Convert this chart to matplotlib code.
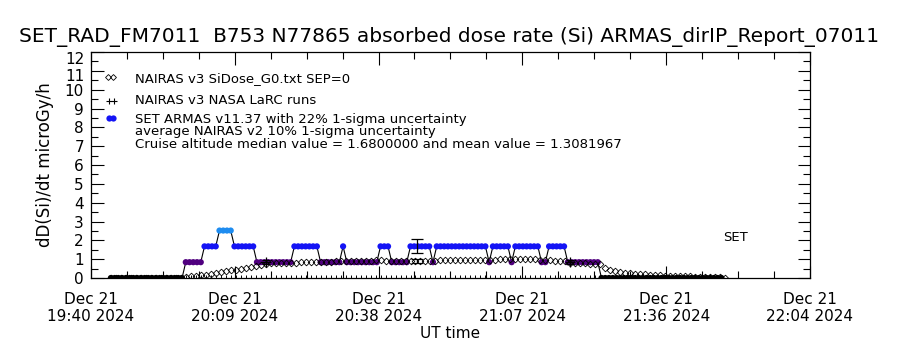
import numpy as np
import matplotlib
matplotlib.use('Agg')
import matplotlib.pyplot as plt
import matplotlib.transforms as mtransforms
from matplotlib.ticker import MultipleLocator, FixedLocator

# time axis: minutes after Dec 21 2024 19:40 UT
x_ticks = [0, 28.8, 57.6, 86.4, 115.2, 144]
x_ticklabels = ['Dec 21\n19:40 2024', 'Dec 21\n20:09 2024', 'Dec 21\n20:38 2024',
                'Dec 21\n21:07 2024', 'Dec 21\n21:36 2024', 'Dec 21\n22:04 2024']
y_ticks = list(range(0, 13))
y_ticklabels = [str(v) for v in y_ticks]

# ARMAS absorbed dose rate (microGy/h), 45 s records starting 19:44, as runs (level, count)
armas_start = 4.0
armas_step = 0.75
armas_runs = [(0.0, 20), (0.84, 5), (1.68, 4), (2.52, 4), (1.68, 6), (0.84, 10),
              (1.68, 7), (0.84, 6), (1.68, 1), (0.84, 9), (1.68, 3), (0.84, 5),
              (1.68, 6), (0.84, 1), (1.68, 14), (0.84, 1), (1.68, 5), (0.84, 1),
              (1.68, 7), (0.84, 2), (1.68, 5), (0.84, 9), (0.0, 33)]
level_colors = {0.0: 'black', 0.84: '#50007f', 1.68: '#1414f5', 2.52: '#1e8cf0'}

# NAIRAS v3 SiDose, 1 min records starting 19:44
nairas_start = 4
nairas_val = [0.0, 0.0, 0.0, 0.0, 0.0, 0.0, 0.0, 0.0, 0.0, 0.0, 0.0, 0.0, 0.0, 0.0, 0.0,
              0.05, 0.08, 0.12, 0.15, 0.18, 0.22, 0.26, 0.30, 0.35, 0.40, 0.44, 0.48,
              0.53, 0.58, 0.63, 0.70, 0.76, 0.78, 0.80,
              0.80, 0.81, 0.82, 0.82, 0.83, 0.84, 0.84, 0.85, 0.86, 0.86, 0.87, 0.88, 0.88,
              0.89, 0.90, 0.90, 0.91, 0.92, 0.92, 0.93, 0.93,
              0.90, 0.89, 0.88, 0.88, 0.89, 0.90, 0.90, 0.91, 0.91, 0.92,
              0.92, 0.93, 0.93, 0.93, 0.94, 0.94, 0.95, 0.95, 0.95, 0.96, 0.96, 0.97,
              0.98, 0.99, 1.00, 1.00, 1.01, 1.01, 1.00, 1.00, 0.99, 0.98,
              0.95, 0.93, 0.92, 0.90, 0.88,
              0.82, 0.80, 0.79, 0.78, 0.76, 0.75, 0.72,
              0.55, 0.42, 0.36, 0.32, 0.28, 0.25, 0.23, 0.21, 0.19, 0.17, 0.16, 0.14,
              0.13, 0.12, 0.11, 0.10, 0.09, 0.08, 0.07, 0.06, 0.05, 0.05, 0.04, 0.03, 0.02]

# NAIRAS v3 NASA LaRC runs
larc_min = [35.0, 96.0]
larc_val = [0.85, 0.85]
larc_err = [0.12, 0.12]
larc_zero_first, larc_zero_last = 4, 102

# cruise summary bars
bar_min = 65.4
armas_median = 1.68
armas_sigma = 0.22
nairas_avg = 0.90
nairas_sigma = 0.10

armas_val = np.concatenate([np.full(n, v) for v, n in armas_runs])
armas_t = armas_start + armas_step * np.arange(len(armas_val))
armas_c = [level_colors[v] for v in armas_val]
nairas_t = nairas_start + np.arange(len(nairas_val))
larc_zero_t = np.arange(larc_zero_first, larc_zero_last + 1)

fig = plt.figure(figsize=(9, 3.5), dpi=100)
ax = fig.add_axes([0.101, 0.2057, 0.799, 0.6457])

ax.plot(larc_zero_t, np.zeros(len(larc_zero_t)), '+', color='k', ms=5, mew=0.7, zorder=2)
ax.plot(armas_t, armas_val, color='k', lw=0.8, zorder=2)
ax.scatter(armas_t, armas_val, c=armas_c, s=20, linewidths=0, zorder=3)
ax.plot(nairas_t, nairas_val, 'D', mfc='none', mec='k', ms=3.4, mew=0.6, ls='none', zorder=4)
ax.errorbar(larc_min, larc_val, yerr=larc_err, fmt='+', color='k', ms=7, mew=0.9,
            elinewidth=0.9, capsize=3, capthick=0.9, zorder=5)
ax.errorbar([bar_min], [armas_median], yerr=[armas_median * armas_sigma], fmt='none',
            ecolor='k', elinewidth=0.9, capsize=4, capthick=0.9, zorder=5)
ax.errorbar([bar_min], [nairas_avg], yerr=[nairas_avg * nairas_sigma], fmt='none',
            ecolor='k', elinewidth=0.9, capsize=4, capthick=0.9, zorder=5)

ax.set_xlim(0, 144)
ax.set_ylim(0, 12)
ax.xaxis.set_major_locator(FixedLocator(x_ticks))
ax.set_xticklabels(x_ticklabels)
ax.xaxis.set_minor_locator(MultipleLocator(7.2))
ax.set_yticks(y_ticks)
# the two top labels sit lower and crowded in the original, drawn by hand below
ax.set_yticklabels(y_ticklabels[:11] + ['', ''])
ax.yaxis.set_minor_locator(MultipleLocator(0.5))
ax.tick_params(which='both', direction='in', top=True, right=True, width=0.8)
ax.tick_params(which='major', length=9)
ax.tick_params(which='minor', length=5)
ax.tick_params(axis='x', labelsize=11, pad=10)
ax.tick_params(axis='y', labelsize=11, pad=5)
for s in ax.spines.values():
    s.set_linewidth(0.9)

ytr = mtransforms.blended_transform_factory(ax.transAxes, ax.transData)
ax.text(-0.0095, 10.68, y_ticklabels[11], transform=ytr, ha='right', va='center', fontsize=11)
ax.text(-0.0095, 11.58, y_ticklabels[12], transform=ytr, ha='right', va='center', fontsize=11)

ax.set_xlabel('UT time', fontsize=11, labelpad=1)
ax.set_ylabel('dD(Si)/dt microGy/h', fontsize=12, labelpad=8)
fig.text(0.499, 0.893, 'SET_RAD_FM7011  B753 N77865 absorbed dose rate (Si) ARMAS_dirIP_Report_07011',
         ha='center', va='center', fontsize=14.5)

# legend drawn by hand
tx = 0.0612
lfs = 9.5
ax.plot([0.0236, 0.0306], [0.889, 0.889], 'D', mfc='none', mec='k', ms=3, mew=0.6,
        transform=ax.transAxes, clip_on=False)
ax.plot([0.025, 0.032], [0.783, 0.783], '+', color='k', ms=5, mew=0.8,
        transform=ax.transAxes, clip_on=False)
ax.plot([0.0255, 0.031], [0.708, 0.708], 'o', color='#1414f5', ms=4.5, mec='none',
        transform=ax.transAxes, clip_on=False)
ax.text(tx, 0.8805, 'NAIRAS v3 SiDose_G0.txt SEP=0', transform=ax.transAxes, fontsize=lfs, va='center')
ax.text(tx, 0.7876, 'NAIRAS v3 NASA LaRC runs', transform=ax.transAxes, fontsize=lfs, va='center')
ax.text(tx, 0.7035, 'SET ARMAS v11.37 with 22% 1-sigma uncertainty', transform=ax.transAxes,
        fontsize=lfs, va='center')
ax.text(tx, 0.650, 'average NAIRAS v2 10% 1-sigma uncertainty', transform=ax.transAxes,
        fontsize=lfs, va='center')
ax.text(tx, 0.592, 'Cruise altitude median value = 1.6800000 and mean value = 1.3081967',
        transform=ax.transAxes, fontsize=lfs, va='center')
ax.text(0.896, 0.181, 'SET', transform=ax.transAxes, fontsize=9.5, ha='center', va='center')

fig.savefig('out.png', dpi=100)
